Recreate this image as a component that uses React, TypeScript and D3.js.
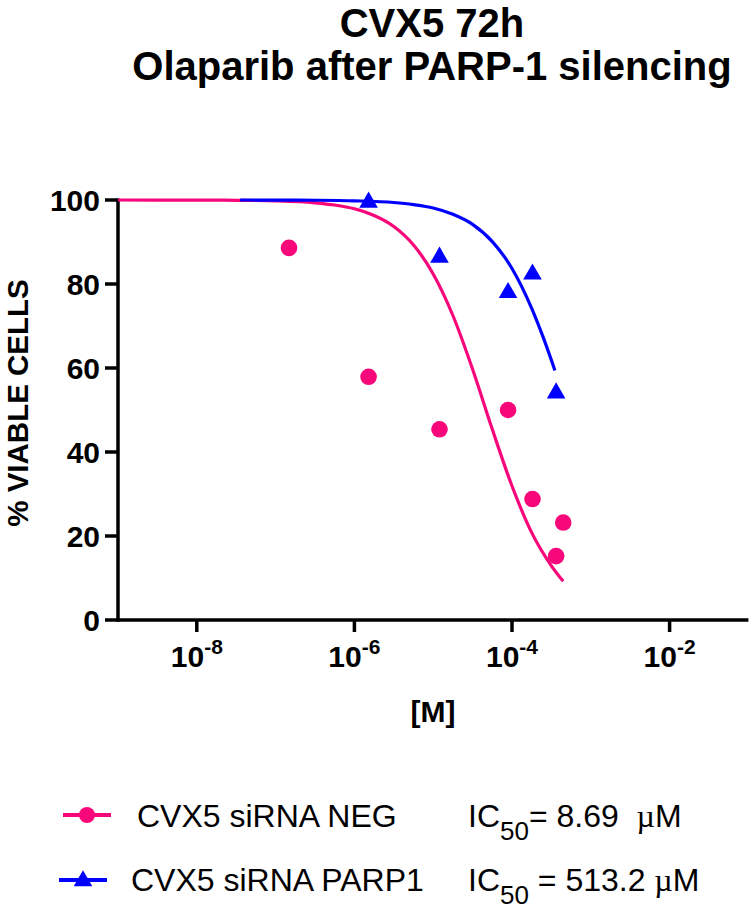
import React from 'react';
import * as d3 from 'd3';

// ---- data (log10 molar concentration, % viable cells) ----
const negLogConc = [-6.83, -5.82, -4.92, -4.05, -3.74, -3.35, -3.44];
const negViability = [88.6, 57.9, 45.4, 50.0, 28.8, 23.2, 15.2];
const parpLogConc = [-5.82, -4.92, -4.05, -3.74, -3.44];
const parpViability = [99.8, 86.7, 78.3, 82.7, 54.4];

// fitted curves as drawn
const negCurveLogConc = [-9, -8, -7.5, -7, -6.5, -6.25, -6, -5.75, -5.5, -5.25, -5, -4.75, -4.5, -4.25, -4, -3.75, -3.5, -3.35];
const negCurveViability = [100, 99.98, 99.93, 99.79, 99.33, 98.8, 97.9, 96.3, 93.7, 89.3, 82.4, 72.5, 59.7, 45.4, 31.9, 20.8, 12.9, 9.2];
const parpCurveLogConc = [-7.45, -7, -6.5, -6, -5.5, -5.25, -5, -4.75, -4.5, -4.25, -4, -3.75, -3.6, -3.455];
const parpCurveViability = [100, 99.98, 99.94, 99.8, 99.4, 98.9, 98.1, 96.6, 94.2, 90.1, 83.7, 74.2, 67.1, 59.4];

const yTicks = [0, 20, 40, 60, 80, 100];
const xTickExps = [-8, -6, -4, -2];

const titleLines = ['CVX5 72h', 'Olaparib after PARP-1 silencing'];
const yLabel = '% VIABLE CELLS';
const xLabel = '[M]';
const legendNames = ['CVX5 siRNA NEG', 'CVX5 siRNA PARP1'];
const legendIC50 = ['= 8.69  ', ' = 513.2 '];

const PINK = '#F7077A';
const BLUE = '#0000FF';
const FONT = '"Liberation Sans", Arial, Helvetica, sans-serif';

export default function App() {
  const W = 755;
  const H = 910;
  const x = d3.scaleLog().domain([1e-9, 1e-1]).range([118, 748.4]);
  const y = d3.scaleLinear().domain([0, 100]).range([620, 200]);

  const line = d3
    .line<[number, number]>()
    .x((d) => x(Math.pow(10, d[0])))
    .y((d) => y(d[1]))
    .curve(d3.curveMonotoneX);

  const negCurve = negCurveLogConc.map((l, i) => [l, negCurveViability[i]] as [number, number]);
  const parpCurve = parpCurveLogConc.map((l, i) => [l, parpCurveViability[i]] as [number, number]);

  const triD = d3.symbol().type(d3.symbolTriangle).size(150)() as string;

  return (
    <svg
      width={W}
      height={H}
      viewBox={`0 0 ${W} ${H}`}
      style={{ position: 'absolute', left: 0, top: 0, background: '#fff', display: 'block' }}
      fontFamily={FONT}
    >
      <rect x={0} y={0} width={W} height={H} fill="#fff" />
      {/* title */}
      <text x={432} y={37} textAnchor="middle" fontSize={40} fontWeight="bold" fill="#000">
        {titleLines[0]}
      </text>
      <text x={432} y={80} textAnchor="middle" fontSize={40} fontWeight="bold" fill="#000">
        {titleLines[1]}
      </text>

      {/* y axis */}
      <line x1={118} x2={118} y1={y(100) - 1.5} y2={y(0) + 1.75} stroke="#000" strokeWidth={3.5} />
      {yTicks.map((t) => (
        <g key={t}>
          <line x1={105} x2={118} y1={y(t)} y2={y(t)} stroke="#000" strokeWidth={3.5} />
          <text x={100} y={y(t)} dy="0.36em" textAnchor="end" fontSize={30} fontWeight="bold">
            {t}
          </text>
        </g>
      ))}
      <text
        transform={`translate(28,403) rotate(-90)`}
        textAnchor="middle"
        fontSize={29.5}
        fontWeight="bold"
      >
        {yLabel}
      </text>

      {/* x axis */}
      <line x1={118} x2={748.4} y1={620} y2={620} stroke="#000" strokeWidth={3.5} />
      {xTickExps.map((e) => (
        <g key={e}>
          <line x1={x(Math.pow(10, e))} x2={x(Math.pow(10, e))} y1={620} y2={632} stroke="#000" strokeWidth={3.5} />
          <text x={x(Math.pow(10, e))} y={667} textAnchor="middle" fontWeight="bold">
            <tspan fontSize={30}>10</tspan>
            <tspan fontSize={21} dy={-13}>{String(e)}</tspan>
          </text>
        </g>
      ))}
      <text x={433} y={722} textAnchor="middle" fontSize={30} fontWeight="bold">
        {xLabel}
      </text>

      {/* curves */}
      <path d={line(negCurve) || ''} fill="none" stroke={PINK} strokeWidth={3.2} />
      <path d={line(parpCurve) || ''} fill="none" stroke={BLUE} strokeWidth={3.2} />

      {/* points */}
      {negLogConc.map((l, i) => (
        <circle key={'n' + i} cx={x(Math.pow(10, l))} cy={y(negViability[i])} r={8.3} fill={PINK} />
      ))}
      {parpLogConc.map((l, i) => (
        <path
          key={'p' + i}
          d={triD}
          transform={`translate(${x(Math.pow(10, l))},${y(parpViability[i]) + 1.5})`}
          fill={BLUE}
        />
      ))}

      {/* legend */}
      <line x1={63} x2={111} y1={815} y2={815} stroke={PINK} strokeWidth={4} />
      <circle cx={87} cy={815} r={8} fill={PINK} />
      <text x={137} y={827} fontSize={32}>{legendNames[0]}</text>
      <text x={468} y={827} fontSize={32}>
        <tspan>IC</tspan>
        <tspan fontSize={26} dy={13}>50</tspan>
        <tspan dy={-13} style={{ whiteSpace: 'pre' }}>{legendIC50[0]}</tspan>
        <tspan fontFamily='"Liberation Serif", "DejaVu Serif", serif'>µ</tspan>
        <tspan>M</tspan>
      </text>

      <line x1={59} x2={107} y1={880} y2={880} stroke={BLUE} strokeWidth={4} />
      <path d={triD} transform="translate(83,881)" fill={BLUE} />
      <text x={131} y={891} fontSize={32}>{legendNames[1]}</text>
      <text x={468} y={891} fontSize={32}>
        <tspan>IC</tspan>
        <tspan fontSize={26} dy={13}>50</tspan>
        <tspan dy={-13} style={{ whiteSpace: 'pre' }}>{legendIC50[1]}</tspan>
        <tspan fontFamily='"Liberation Serif", "DejaVu Serif", serif'>µ</tspan>
        <tspan>M</tspan>
      </text>
    </svg>
  );
}
